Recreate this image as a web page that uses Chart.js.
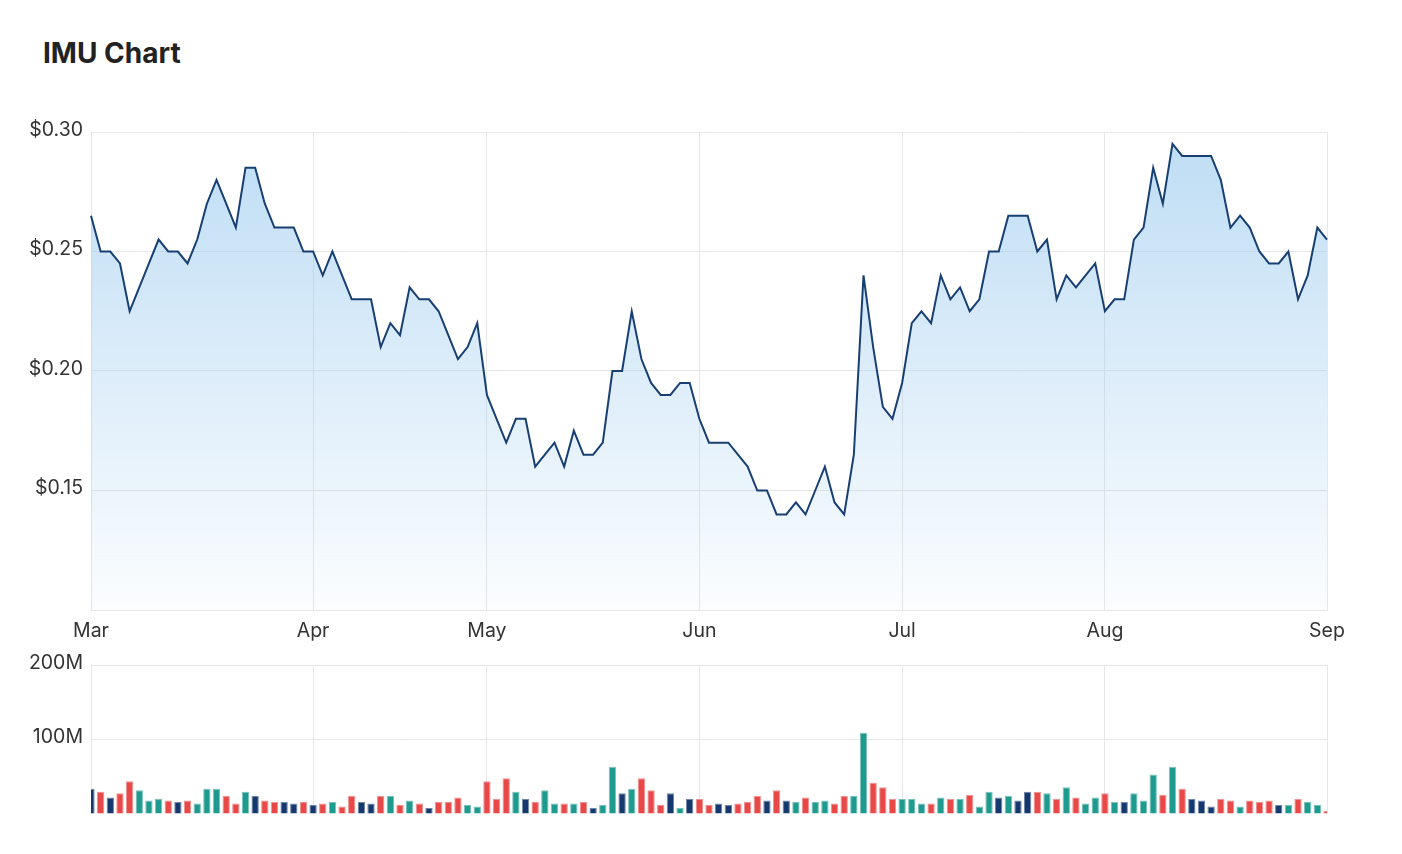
<!DOCTYPE html>
<html>
<head>
<meta charset="utf-8">
<title>IMU Chart</title>
<script src="https://cdn.jsdelivr.net/npm/chart.js@4"></script>
<style>
    body { margin: 0; background: #fff; font-family: Inter, "Noto Sans", sans-serif; }
    .title { position: absolute; left: 43px; top: 39px; font-size: 28px; line-height: 28px; font-weight: 700; color: #222; }
    .price-box { position: absolute; left: 0; top: 110px; width: 1402px; height: 540px; }
    .volume-box { position: absolute; left: 0; top: 650px; width: 1402px; height: 164px; }
</style>
</head>
<body>
<div class="title">IMU Chart</div>
<div class="price-box"><canvas id="priceChart"></canvas></div>
<div class="volume-box"><canvas id="volumeChart"></canvas></div>
<script>
// Trading days Mar 2022 - Sep 2022 (one entry per day shown)
const months = ['Mar', 'Apr', 'May', 'Jun', 'Jul', 'Aug', 'Sep'];
const monthDays = [
    [1, 2, 3, 4, 7, 8, 9, 10, 11, 14, 15, 16, 17, 18, 21, 22, 23, 24, 25, 28, 29, 30, 31],
    [1, 4, 5, 6, 7, 8, 11, 12, 13, 14, 19, 20, 21, 22, 26, 27, 28, 29],
    [2, 3, 4, 5, 6, 9, 10, 11, 12, 13, 16, 17, 18, 19, 20, 23, 24, 25, 26, 27, 30, 31],
    [1, 2, 3, 6, 7, 8, 9, 10, 14, 15, 16, 17, 20, 21, 22, 23, 24, 27, 28, 29, 30],
    [1, 4, 5, 6, 7, 8, 11, 12, 13, 14, 15, 18, 19, 20, 21, 22, 25, 26, 27, 28, 29],
    [1, 2, 3, 4, 5, 8, 9, 10, 11, 12, 15, 16, 17, 18, 19, 22, 23, 24, 25, 26, 29, 30, 31],
    [1]
];

// Closing price ($)
const prices = [
    0.265, 0.25, 0.25, 0.245, 0.225, 0.235, 0.245, 0.255, 0.25, 0.25,
    0.245, 0.255, 0.27, 0.28, 0.27, 0.26, 0.285, 0.285, 0.27, 0.26,
    0.26, 0.26, 0.25, 0.25, 0.24, 0.25, 0.24, 0.23, 0.23, 0.23,
    0.21, 0.22, 0.215, 0.235, 0.23, 0.23, 0.225, 0.215, 0.205, 0.21,
    0.22, 0.19, 0.18, 0.17, 0.18, 0.18, 0.16, 0.165, 0.17, 0.16,
    0.175, 0.165, 0.165, 0.17, 0.20, 0.20, 0.225, 0.205, 0.195, 0.19,
    0.19, 0.195, 0.195, 0.18, 0.17, 0.17, 0.17, 0.165, 0.16, 0.15,
    0.15, 0.14, 0.14, 0.145, 0.14, 0.15, 0.16, 0.145, 0.14, 0.165,
    0.24, 0.21, 0.185, 0.18, 0.195, 0.22, 0.225, 0.22, 0.24, 0.23,
    0.235, 0.225, 0.23, 0.25, 0.25, 0.265, 0.265, 0.265, 0.25, 0.255,
    0.23, 0.24, 0.235, 0.24, 0.245, 0.225, 0.23, 0.23, 0.255, 0.26,
    0.285, 0.27, 0.295, 0.29, 0.29, 0.29, 0.29, 0.28, 0.26, 0.265,
    0.26, 0.25, 0.245, 0.245, 0.25, 0.23, 0.24, 0.26, 0.255
];

// Volume (millions of shares)
const volumes = [
    34, 30, 22, 28, 44, 32, 18, 20, 18, 16,
    18, 14, 34, 34, 24, 14, 30, 24, 18, 16,
    16, 14, 16, 12, 14, 16, 10, 24, 16, 14,
    24, 24, 12, 18, 14, 8, 16, 16, 22, 12,
    10, 44, 20, 48, 30, 20, 16, 32, 14, 14,
    14, 16, 8, 12, 63, 28, 34, 48, 32, 12,
    28, 8, 20, 20, 12, 14, 12, 14, 16, 24,
    18, 32, 18, 16, 22, 16, 18, 14, 24, 24,
    109, 42, 36, 20, 20, 20, 14, 14, 22, 20,
    20, 26, 10, 30, 22, 24, 18, 30, 30, 28,
    20, 36, 22, 14, 22, 28, 16, 16, 28, 18,
    53, 26, 63, 34, 20, 18, 10, 20, 18, 10,
    18, 16, 18, 12, 12, 20, 16, 12, 4
];

const priceTicks = [0.10, 0.15, 0.20, 0.25, 0.30];
const volumeTicks = [0, 100, 200];

const colors = {
    line: '#183f73',
    up: '#1f9a8f',
    down: '#e84848',
    flat: '#15396e',
    grid: '#e7e7e7',
    text: '#333333'
};

// Build labels and the indices where a new month starts
const labels = [];
const monthStarts = [];
monthDays.forEach((days, m) => {
    monthStarts.push(labels.length);
    days.forEach(d => labels.push(months[m] + ' ' + d));
});
const monthName = i => months[monthStarts.indexOf(i)];

// Volume bar colour follows the day's price move
const barColors = prices.map((p, i) => {
    if (i === 0) return colors.flat;
    if (p > prices[i - 1]) return colors.up;
    if (p < prices[i - 1]) return colors.down;
    return colors.flat;
});

Chart.defaults.font.family = 'Inter, "Noto Sans", sans-serif';
Chart.defaults.font.size = 19.5;
Chart.defaults.color = colors.text;
Chart.defaults.animation = false;

const monthGrid = ctx => monthStarts.includes(ctx.index) ? colors.grid : 'transparent';

function fillGradient(context) {
    const area = context.chart.chartArea;
    if (!area) return 'rgba(160,205,238,0.5)';
    const g = context.chart.ctx.createLinearGradient(0, area.top, 0, area.bottom);
    g.addColorStop(0, 'rgba(150, 200, 238, 0.62)');
    g.addColorStop(1, 'rgba(150, 200, 238, 0.04)');
    return g;
}

// Price chart
new Chart(document.getElementById('priceChart'), {
    type: 'line',
    data: {
        labels: labels,
        datasets: [{
            data: prices,
            borderColor: colors.line,
            borderWidth: 2,
            backgroundColor: fillGradient,
            fill: 'start',
            pointRadius: 0,
            tension: 0
        }]
    },
    options: {
        responsive: true,
        maintainAspectRatio: false,
        layout: { padding: { left: 0, right: 75, top: 22, bottom: 0 } },
        plugins: { legend: { display: false }, tooltip: { enabled: false } },
        scales: {
            x: {
                type: 'category',
                offset: false,
                grid: { color: monthGrid, drawTicks: false },
                border: { color: colors.grid },
                ticks: {
                    autoSkip: false,
                    maxRotation: 0,
                    padding: 9,
                    callback: (v, i) => monthStarts.includes(i) ? monthName(i) : ''
                },
                afterFit: s => { s.height = 40; }
            },
            y: {
                min: priceTicks[0],
                max: priceTicks[priceTicks.length - 1],
                afterBuildTicks: s => { s.ticks = priceTicks.map(v => ({ value: v })); },
                grid: { color: colors.grid, drawTicks: false },
                border: { color: colors.grid },
                ticks: {
                    padding: 8,
                    labelOffset: -2,
                    callback: v => v === priceTicks[0] ? '' : '$' + v.toFixed(2)
                },
                afterFit: s => { s.width = 91; }
            }
        }
    }
});

// Volume chart
new Chart(document.getElementById('volumeChart'), {
    type: 'bar',
    data: {
        labels: labels,
        datasets: [{
            data: volumes.map(v => v * 1e6),
            backgroundColor: barColors,
            borderColor: barColors.map(c => c + '99'),
            borderWidth: 1,
            borderSkipped: 'bottom',
            barPercentage: 0.76,
            categoryPercentage: 1,
            clip: 0
        }]
    },
    options: {
        responsive: true,
        maintainAspectRatio: false,
        layout: { padding: { left: 0, right: 75, top: 15, bottom: 0 } },
        plugins: { legend: { display: false }, tooltip: { enabled: false } },
        scales: {
            x: {
                type: 'category',
                offset: false,
                grid: { color: monthGrid, drawTicks: false, offset: false },
                border: { display: false },
                ticks: { display: false, autoSkip: false },
                afterFit: s => { s.height = 0; }
            },
            y: {
                min: 0,
                max: volumeTicks[volumeTicks.length - 1] * 1e6,
                afterBuildTicks: s => { s.ticks = volumeTicks.map(v => ({ value: v * 1e6 })); },
                grid: { color: colors.grid, drawTicks: false },
                border: { color: colors.grid },
                ticks: {
                    padding: 8,
                    labelOffset: -2,
                    callback: v => v === 0 ? '' : (v / 1e6) + 'M'
                },
                afterFit: s => {
                    s.width = 91;
                    s.paddingTop = 0;
                    s.paddingBottom = 0;
                }
            }
        }
    }
});
</script>
</body>
</html>
